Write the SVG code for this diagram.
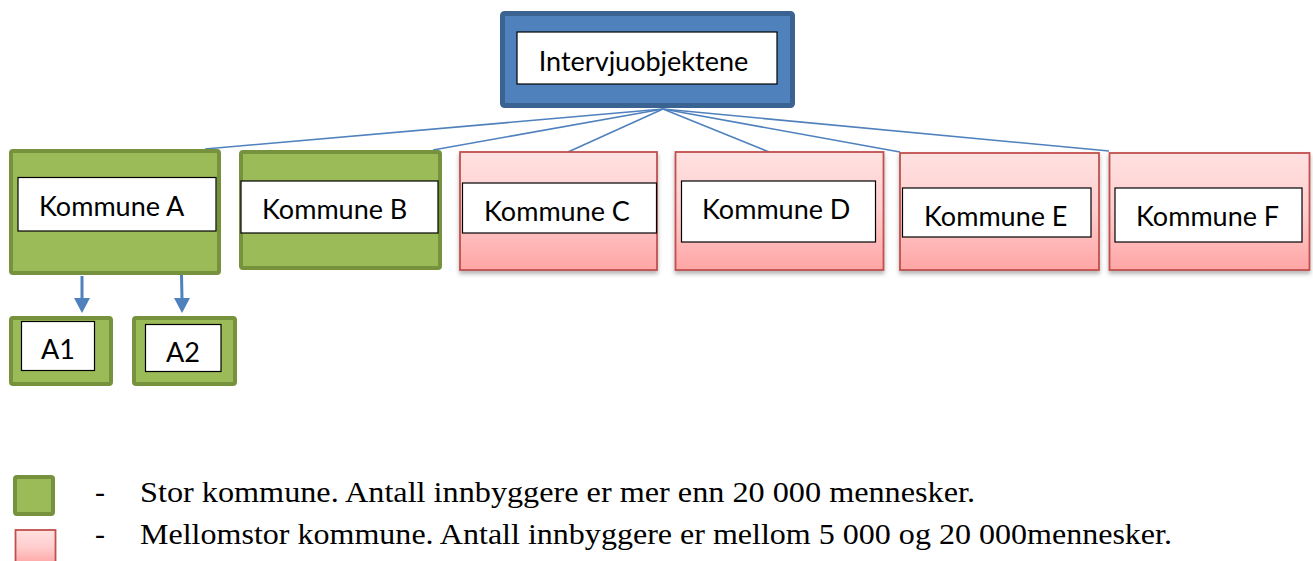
<svg xmlns="http://www.w3.org/2000/svg" width="1313" height="561" viewBox="0 0 1313 561">
<style>
.lbl{font-family:Lato,"Liberation Sans",sans-serif;font-size:27px;fill:#000}
.leg{font-family:"Liberation Serif",serif;font-size:30px;fill:#000}
.inner{fill:#fff;stroke:#000;stroke-width:1.2}
.green{fill:#9bbb59;stroke:#76923c;stroke-width:4}
.red{fill:url(#redg);stroke:#c0504d;stroke-width:1.8}
.conn{stroke:#4f81bd;stroke-width:1.6;fill:none}
</style>
<defs>
<linearGradient id="redg" x1="0" y1="0" x2="0" y2="1">
<stop offset="0" stop-color="#ffe1e1"/>
<stop offset="0.5" stop-color="#ffcdcd"/>
<stop offset="1" stop-color="#ffa5a5"/>
</linearGradient>
<filter id="sh" x="-10%" y="-10%" width="120%" height="130%">
<feDropShadow dx="0" dy="3" stdDeviation="2" flood-color="#000" flood-opacity="0.3"/>
</filter>
</defs>
<g id="connectors">
<line class="conn" x1="663" y1="109" x2="205" y2="149"/>
<line class="conn" x1="663" y1="109" x2="433" y2="150"/>
<line class="conn" x1="663" y1="109" x2="568" y2="152"/>
<line class="conn" x1="663" y1="109" x2="769" y2="152"/>
<line class="conn" x1="663" y1="109" x2="900" y2="152"/>
<line class="conn" x1="663" y1="109" x2="1109" y2="151"/>
<line x1="82" y1="276" x2="82" y2="299" stroke="#4f81bd" stroke-width="3"/>
<path d="M74,298 L90,298 L82,313 Z" fill="#4f81bd"/>
<line x1="181.5" y1="275" x2="182" y2="299" stroke="#4f81bd" stroke-width="3"/>
<path d="M174,298 L190,298 L182,313 Z" fill="#4f81bd"/>
</g>
<g id="top">
<rect x="502.5" y="13.5" width="290" height="92" rx="2" fill="#4f81bd" stroke="#3b6391" stroke-width="5"/>
<rect class="inner" x="517" y="32" width="260" height="52"/>
<text class="lbl" x="643.5" y="71" text-anchor="middle">Intervjuobjektene</text>
</g>
<g id="kommuneA">
<rect class="green" x="11" y="151" width="208" height="122" rx="2"/>
<rect class="inner" x="18" y="177.5" width="198" height="53.5"/>
<text class="lbl" x="39" y="216">Kommune A</text>
</g>
<g id="kommuneB">
<rect class="green" x="241" y="152" width="199" height="116" rx="2"/>
<rect class="inner" x="241" y="181" width="197" height="52"/>
<text class="lbl" x="262" y="219">Kommune B</text>
</g>
<g id="kommuneC">
<rect class="red" x="460" y="152" width="197" height="118" filter="url(#sh)"/>
<rect class="inner" x="462.5" y="183" width="194" height="50"/>
<text class="lbl" x="484" y="221">Kommune C</text>
</g>
<g id="kommuneD">
<rect class="red" x="675.5" y="152" width="208" height="118" filter="url(#sh)"/>
<rect class="inner" x="681.5" y="181" width="194" height="61"/>
<text class="lbl" x="702" y="219">Kommune D</text>
</g>
<g id="kommuneE">
<rect class="red" x="900" y="153" width="199" height="117" filter="url(#sh)"/>
<rect class="inner" x="902.5" y="188" width="188.5" height="49"/>
<text class="lbl" x="924" y="226">Kommune E</text>
</g>
<g id="kommuneF">
<rect class="red" x="1109.5" y="153" width="200" height="117" filter="url(#sh)"/>
<rect class="inner" x="1115" y="188" width="187" height="54"/>
<text class="lbl" x="1136" y="226">Kommune F</text>
</g>
<g id="A1">
<rect class="green" x="11" y="318" width="100" height="66" rx="2"/>
<rect class="inner" x="21.5" y="321.5" width="73" height="49"/>
<text class="lbl" x="41" y="359">A1</text>
</g>
<g id="A2">
<rect class="green" x="134" y="318" width="101" height="66" rx="2"/>
<rect class="inner" x="145.5" y="324.5" width="75.5" height="47"/>
<text class="lbl" x="166" y="362">A2</text>
</g>
<g id="legend">
<rect class="green" x="15" y="477" width="38" height="37" rx="2"/>
<rect class="red" x="15.5" y="530" width="40" height="34"/>
<text class="leg" x="95" y="502">-</text>
<text class="leg" x="140" y="502" textLength="835" lengthAdjust="spacingAndGlyphs">Stor kommune. Antall innbyggere er mer enn 20 000 mennesker.</text>
<text class="leg" x="95" y="544">-</text>
<text class="leg" x="140" y="544" textLength="1032" lengthAdjust="spacingAndGlyphs">Mellomstor kommune. Antall innbyggere er mellom 5 000 og 20 000mennesker.</text>
</g>
</svg>
